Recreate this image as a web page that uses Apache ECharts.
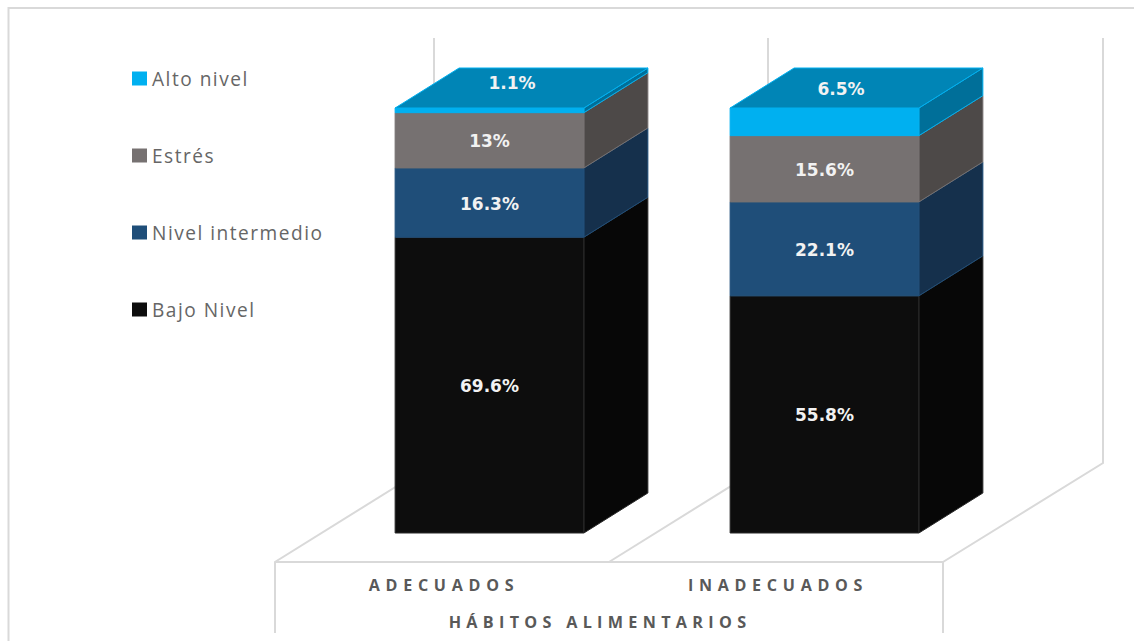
<!DOCTYPE html>
<html lang="es">
<head>
<meta charset="utf-8">
<title>Hábitos alimentarios y estrés</title>
<style>
  html, body { margin: 0; padding: 0; background: #fff; }
  #chart { width: 1134px; height: 641px; }
  /* Tracking for the labels, keyed on the font size each group uses */
  #chart text[style*="16.1px"] { letter-spacing: 5.7px; }
  #chart text[style*="16.2px"] { letter-spacing: 5.3px; }
  #chart text[style*="19.1px"] { letter-spacing: 1.5px; }
</style>
</head>
<body>
<div id="chart"></div>
<script src="https://cdn.jsdelivr.net/npm/echarts@6/dist/echarts.min.js"></script>
<script>
// Habits on the x axis, share of each stress level stacked from the bottom up.
const categories = ['ADECUADOS', 'INADECUADOS'];
const axisTitle = 'HÁBITOS ALIMENTARIOS';
const bajoNivel = [69.6, 55.8];
const nivelIntermedio = [16.3, 22.1];
const estres = [13, 15.6];
const altoNivel = [1.1, 6.5];

const levels = [
  { name: 'Bajo Nivel', values: bajoNivel, front: '#0D0D0D', side: '#070707', edge: '#2a2a2a' },
  { name: 'Nivel intermedio', values: nivelIntermedio, front: '#1F4E79', side: '#15304C', edge: '#1F4E79' },
  { name: 'Estrés', values: estres, front: '#767171', side: '#4D4948', edge: '#767171' },
  { name: 'Alto nivel', values: altoNivel, front: '#00B0F0', side: '#006F99', top: '#0085B6', edge: '#00B0F0' }
];

// Oblique projection of the prisms and shift of the labels that sit on the lid.
const DEPTH_X = 64;
const DEPTH_Y = 40;
const BAR_RATIO = 0.5635;
const lidLabelShift = [[22.5, -27], [16.5, -33]];

const stackBase = (levelIndex, catIndex) =>
  levels.slice(0, levelIndex).reduce((sum, l) => sum + l.values[catIndex], 0);

function prismSeries(level, levelIndex) {
  const isTop = levelIndex === levels.length - 1;
  return {
    type: 'custom',
    name: level.name,
    coordinateSystem: 'cartesian2d',
    xAxisIndex: 0,
    yAxisIndex: 0,
    itemStyle: { color: level.front },
    z: 10 + levelIndex,
    data: level.values.map((v, i) => [i, stackBase(levelIndex, i), stackBase(levelIndex, i) + v, v]),
    renderItem(params, api) {
      const cat = api.value(0);
      const low = api.coord([cat, api.value(1)]);
      const high = api.coord([cat, api.value(2)]);
      const half = api.size([1, 0])[0] * BAR_RATIO / 2;
      const x0 = low[0] - half, x1 = low[0] + half;
      const y0 = low[1], y1 = high[1];
      const stroke = { stroke: level.edge, lineWidth: 1 };
      const children = [
        { type: 'polygon', shape: { points: [[x1, y0], [x1 + DEPTH_X, y0 - DEPTH_Y], [x1 + DEPTH_X, y1 - DEPTH_Y], [x1, y1]] },
          style: { fill: level.side, ...stroke } },
        { type: 'rect', shape: { x: x0, y: y1, width: x1 - x0, height: y0 - y1 },
          style: { fill: level.front, ...stroke } }
      ];
      if (isTop) {
        children.push({ type: 'polygon',
          shape: { points: [[x0, y1], [x0 + DEPTH_X, y1 - DEPTH_Y], [x1 + DEPTH_X, y1 - DEPTH_Y], [x1, y1]] },
          style: { fill: level.top, ...stroke } });
      }
      const shift = isTop ? lidLabelShift[cat] : [0, 1];
      children.push({ type: 'text',
        style: { text: api.value(3) + '%', x: low[0] + shift[0], y: (y0 + y1) / 2 + shift[1],
          fill: '#F2F2F2', font: 'bold 17px "DejaVu Sans"', align: 'center', verticalAlign: 'middle' } });
      return { type: 'group', children };
    }
  };
}

// Back wall and floor outline of the plot box.
const GRID_LINE = { stroke: '#D9D9D9', lineWidth: 2 };
const frameLines = [
  [[8.5, 641], [8.5, 8], [1134, 8]],
  [[434, 38], [434, 463]],
  [[768, 38], [768, 463]],
  [[1103, 38], [1103, 463], [943, 562], [943, 633]],
  [[768, 463], [609, 562]],
  [[434, 463], [275, 562], [275, 633]]
];

const chart = echarts.init(document.getElementById('chart'), null, { renderer: 'svg' });
chart.setOption({
  animation: false,
  backgroundColor: '#fff',
  legend: {
    orient: 'vertical',
    left: 132,
    top: 69,
    padding: 0,
    itemWidth: 15,
    itemHeight: 14,
    itemGap: 58,
    icon: 'rect',
    data: levels.map(l => l.name).reverse(),
    selectedMode: false,
    textStyle: { color: '#666666', fontFamily: 'Open Sans', fontSize: 19.1 }
  },
  graphic: frameLines.map(points => ({
    type: 'polyline', z: 0, silent: true, shape: { points }, style: { fill: null, ...GRID_LINE }
  })),
  grid: [
    { left: 322, width: 670, top: 108, height: 425 },
    { left: 277, width: 668, top: 108, bottom: 79 }
  ],
  xAxis: [
    { gridIndex: 0, type: 'category', data: categories, show: false },
    { gridIndex: 1, type: 'category', data: categories,
      axisLine: { show: false },
      axisTick: { show: false },
      axisLabel: { margin: 15, color: '#595959', fontFamily: 'Open Sans', fontWeight: 'bold', fontSize: 16.1 },
      name: axisTitle,
      nameLocation: 'middle',
      nameGap: 52,
      nameTextStyle: { color: '#595959', fontFamily: 'Open Sans', fontWeight: 'bold', fontSize: 16.2, padding: [0, 22, 0, 0] }
    }
  ],
  yAxis: [
    { gridIndex: 0, type: 'value', min: 0, max: 100, show: false },
    { gridIndex: 1, type: 'value', min: 0, max: 100, show: false }
  ],
  series: levels.map(prismSeries)
});
// Front edge of the floor, joining the two side posts.
chart.setOption({
  graphic: frameLines.concat([[[275, 562], [943, 562]]]).map(points => ({
    type: 'polyline', z: 0, silent: true, shape: { points }, style: { fill: null, ...GRID_LINE }
  }))
});
</script>
</body>
</html>
